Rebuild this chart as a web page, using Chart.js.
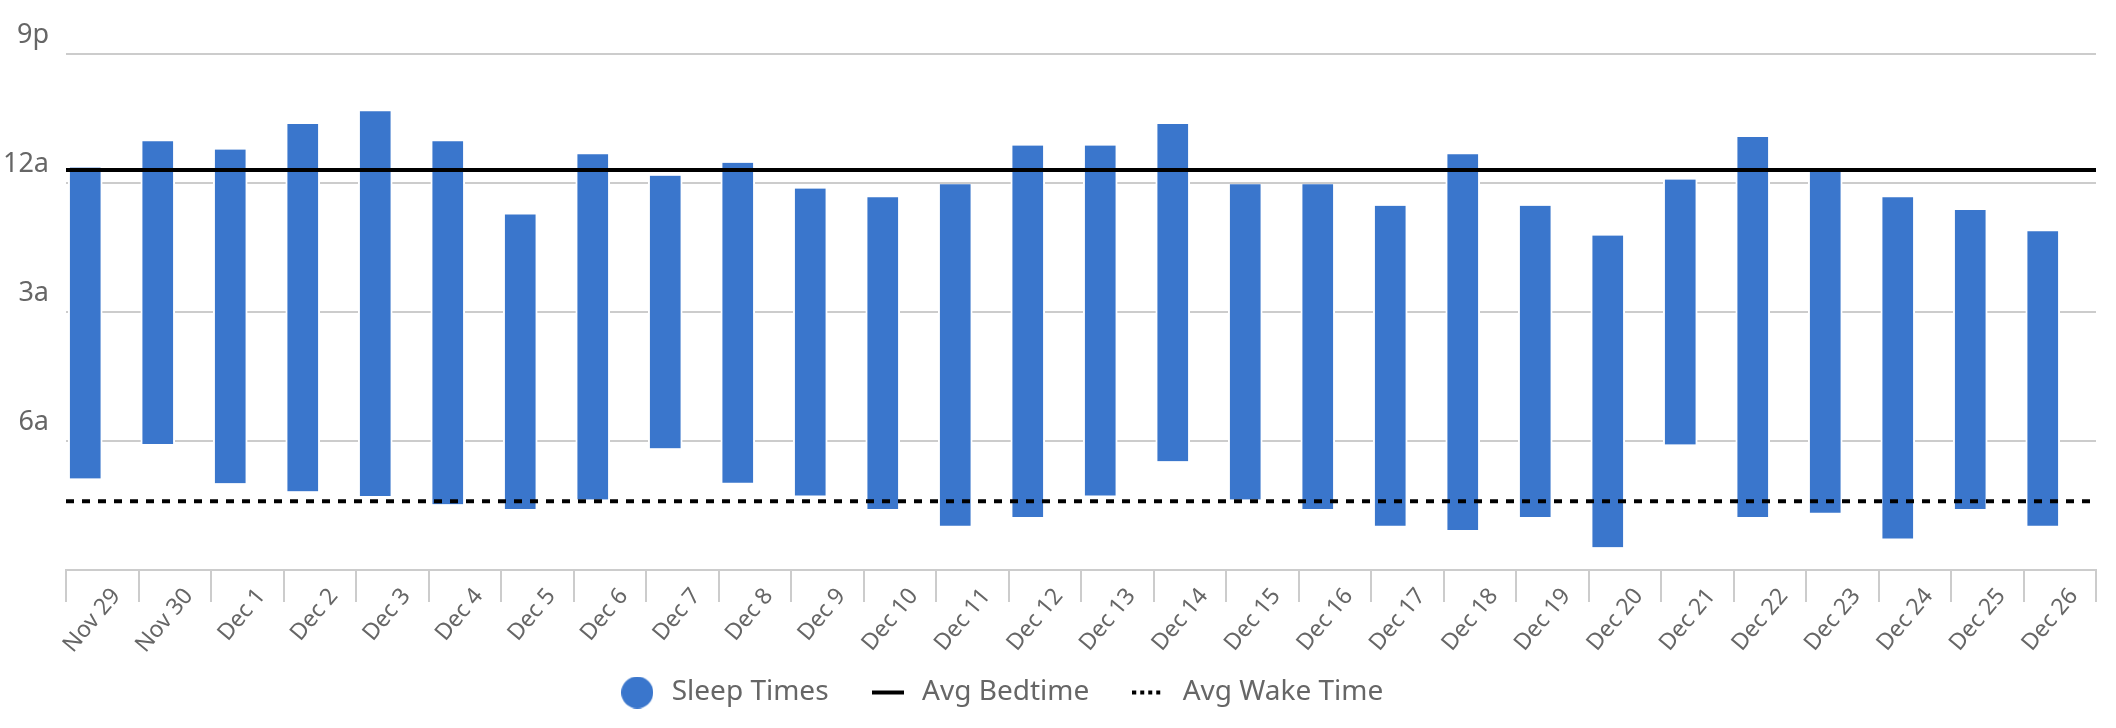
<!DOCTYPE html>
<html>
<head>
<meta charset="utf-8">
<script src="https://cdn.jsdelivr.net/npm/chart.js@4/dist/chart.umd.min.js"></script>
<style>
  html, body { margin: 0; padding: 0; background: #fff; }
  #wrap { width: 2116px; height: 728px; position: relative; }
</style>
</head>
<body>
<div id="wrap"><canvas id="sleepChart"></canvas></div>
<script>
// days shown on the x axis
const days = ['Nov 29', 'Nov 30', 'Dec 1', 'Dec 2', 'Dec 3', 'Dec 4', 'Dec 5', 'Dec 6', 'Dec 7',
    'Dec 8', 'Dec 9', 'Dec 10', 'Dec 11', 'Dec 12', 'Dec 13', 'Dec 14', 'Dec 15', 'Dec 16',
    'Dec 17', 'Dec 18', 'Dec 19', 'Dec 20', 'Dec 21', 'Dec 22', 'Dec 23', 'Dec 24', 'Dec 25', 'Dec 26'];

// hours relative to midnight (negative = before midnight)
const bedtimes = [-0.36, -0.97, -0.78, -1.37, -1.67, -0.97, 0.73, -0.67, -0.17, -0.47, 0.13, 0.33, 0.03, -0.87,
    -0.87, -1.37, 0.03, 0.03, 0.53, -0.67, 0.53, 1.22, -0.08, -1.07, -0.30, 0.33, 0.63, 1.12];
const wakeTimes = [6.87, 6.07, 6.98, 7.17, 7.28, 7.47, 7.58, 7.36, 6.17, 6.97, 7.27, 7.58, 7.97, 7.77,
    7.27, 6.47, 7.36, 7.58, 7.97, 8.07, 7.77, 8.47, 6.08, 7.77, 7.67, 8.27, 7.58, 7.97];

const avgBedtime = -0.3;
const avgWakeTime = 7.4;

// y ticks: 9p, 12a, 3a, 6a, 9a
const yTickValues = [-3, 0, 3, 6, 9];
const yTickLabels = ['9p', '12a', '3a', '6a', ''];

const barColor = '#3a76cc';
const textColor = '#666666';

Chart.defaults.font.family = '"Noto Sans", "Open Sans", sans-serif';

// small legend markers (circle, solid line, dotted line)
function makeMarker(kind) {
    const c = document.createElement('canvas');
    c.width = 32;
    c.height = 32;
    const g = c.getContext('2d');
    if (kind === 'circle') {
        g.fillStyle = barColor;
        g.beginPath();
        g.arc(16, 16, 16, 0, Math.PI * 2);
        g.fill();
    } else if (kind === 'line') {
        g.fillStyle = '#000';
        g.fillRect(0, 14, 32, 4);
    } else {
        g.fillStyle = '#000';
        for (let x = 0; x < 32; x += 8) g.fillRect(x, 14, 4, 4);
    }
    return c;
}

// put the legend row where the original has it
const LEGEND_DX = -48;
const LEGEND_TOP = 640;
const legendShift = {
    id: 'legendShift',
    afterLayout(chart) {
        const lg = chart.legend;
        if (!lg) return;
        lg.left += LEGEND_DX;
        lg.right += LEGEND_DX;
        lg.top = LEGEND_TOP;
        lg.bottom = chart.height;
        lg.height = lg.bottom - lg.top;
    }
};

const ctx = document.getElementById('sleepChart').getContext('2d');
new Chart(ctx, {
    type: 'bar',
    data: {
        labels: days,
        datasets: [{
            label: 'Sleep Times',
            data: bedtimes.map((b, i) => [b, wakeTimes[i]]),
            backgroundColor: barColor,
            borderColor: '#ffffff',
            borderWidth: { left: 2, right: 2, top: 0, bottom: 0 },
            borderSkipped: false,
            barThickness: 34,
            order: 2
        }, {
            type: 'line',
            label: 'Avg Bedtime',
            xAxisID: 'x2',
            data: [{ x: 0, y: avgBedtime }, { x: 1, y: avgBedtime }],
            borderColor: '#000',
            borderWidth: 4,
            pointRadius: 0,
            fill: false,
            order: 1
        }, {
            type: 'line',
            label: 'Avg Wake Time',
            xAxisID: 'x2',
            data: [{ x: 0, y: avgWakeTime }, { x: 1, y: avgWakeTime }],
            borderColor: '#000',
            borderWidth: 4,
            borderDash: [8, 8],
            pointRadius: 0,
            fill: false,
            order: 1
        }]
    },
    options: {
        responsive: true,
        maintainAspectRatio: false,
        animation: false,
        layout: {
            padding: { top: 54, right: 20, bottom: 0, left: 0 }
        },
        plugins: {
            tooltip: { enabled: false },
            legend: {
                position: 'bottom',
                maxHeight: 58,
                labels: {
                    usePointStyle: true,
                    pointStyleWidth: 41,
                    padding: 38.5,
                    color: textColor,
                    font: { size: 28 },
                    generateLabels: function () {
                        return [
                            { text: 'Sleep Times', pointStyle: makeMarker('circle'), fillStyle: barColor,
                              strokeStyle: barColor, lineWidth: 0, hidden: false, datasetIndex: 0, fontColor: textColor },
                            { text: 'Avg Bedtime', pointStyle: makeMarker('line'), fillStyle: '#000',
                              strokeStyle: '#000', lineWidth: 0, hidden: false, datasetIndex: 1, fontColor: textColor },
                            { text: 'Avg Wake Time', pointStyle: makeMarker('dots'), fillStyle: '#000',
                              strokeStyle: '#000', lineWidth: 0, hidden: false, datasetIndex: 2, fontColor: textColor }
                        ];
                    }
                }
            }
        },
        scales: {
            x: {
                type: 'category',
                grid: {
                    offset: true,
                    drawOnChartArea: false,
                    drawTicks: true,
                    tickLength: 32,
                    color: '#cccccc',
                    lineWidth: 2
                },
                border: { display: true, color: '#cccccc', width: 2 },
                ticks: {
                    autoSkip: false,
                    minRotation: 50,
                    maxRotation: 50,
                    padding: -19,
                    labelOffset: 14,
                    color: textColor,
                    font: { size: 23 }
                },
                afterFit: function (scale) { scale.height = 100; }
            },
            x2: {
                type: 'linear',
                display: false,
                offset: false,
                min: 0,
                max: 1
            },
            y: {
                type: 'linear',
                reverse: true,
                min: -3,
                max: 9,
                afterBuildTicks: function (scale) {
                    scale.ticks = yTickValues.map(v => ({ value: v }));
                },
                grid: {
                    color: '#cccccc',
                    lineWidth: 2,
                    drawTicks: false
                },
                border: { display: false },
                ticks: {
                    padding: 17,
                    labelOffset: -19,
                    color: textColor,
                    font: { size: 27 },
                    callback: function (value) {
                        const i = yTickValues.indexOf(value);
                        return i >= 0 ? yTickLabels[i] : '';
                    }
                },
                afterFit: function (scale) { scale.width = 66; }
            }
        }
    },
    plugins: [legendShift]
});
</script>
</body>
</html>
